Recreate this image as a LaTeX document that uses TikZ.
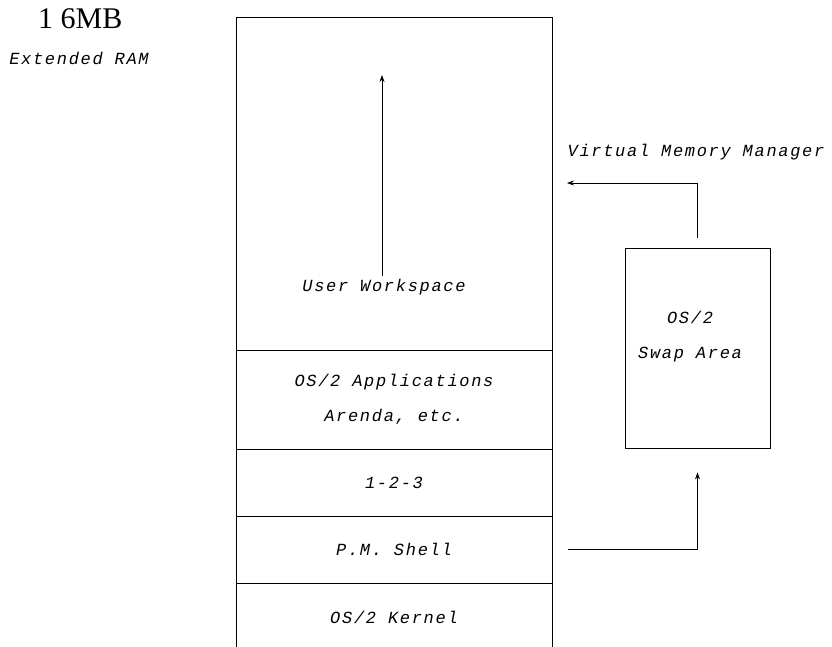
\documentclass[tikz,border=0pt]{standalone}
\usepackage{fontspec}
\setmainfont{Liberation Serif}
\newfontfamily\monofont[LetterSpace=10]{Liberation Mono}
\usetikzlibrary{arrows.meta}

% styles for the memory map
\tikzset{
  memrow/.style={draw, thick, minimum width=316pt, inner sep=0pt, outer sep=0pt, align=center},
  memtext/.style={font=\monofont\itshape\fontsize{17}{35}\selectfont, align=center},
  arr/.style={thick, -{Stealth[length=7pt,width=5pt]}}
}

\begin{document}
\begin{tikzpicture}[x=1pt, y=-1pt]
    \useasboundingbox (0,0) rectangle (832,647);

    % Titel links oben
    \node[anchor=base west, inner sep=0pt] (size) at (38,29) {\fontsize{30}{34}\selectfont 1 6MB};
    \node[memtext] (ext) at (79,58) {Extended RAM};

    % Speicherspalte
    \node[memrow, minimum height=333pt] (work) at (394,183.5) {};
    \node[memrow, minimum height=99pt, memtext] (apps) at (394,399.5) {OS/2 Applications\\Arenda, etc.};
    \node[memrow, minimum height=67pt, memtext] (lotus) at (394,482.5) {1-2-3};
    \node[memrow, minimum height=67pt, memtext] (shell) at (394,549.5) {P.M. Shell};
    \node[memrow, minimum height=69pt, memtext] (kernel) at (394,617.5) {OS/2 Kernel};

    % Workspace waechst nach oben
    \node[memtext] (uwtxt) at (384,287) {User Workspace};
    \coordinate (wstop) at (382,75);
    \draw[arr] (uwtxt.north -| wstop) -- (wstop);

    % Auslagerungsbereich
    \node[draw, thick, minimum width=145pt, minimum height=200pt] (swap) at (697.5,348) {};
    \node[memtext] (swaptxt) at (690,337) {OS/2\\Swap Area};

    % Virtual Memory Manager
    \node[memtext] (vmm) at (696,152) {Virtual Memory Manager};
    \coordinate (vmmend) at (567,183);
    \draw[arr] ([yshift=10pt]swap.north) |- (vmmend);

    % vom Shell in den Swap
    \coordinate (swapin) at ([yshift=-24pt]swap.south);
    \draw[arr] ([xshift=16pt]shell.east) -| (swapin);

\end{tikzpicture}
\end{document}
